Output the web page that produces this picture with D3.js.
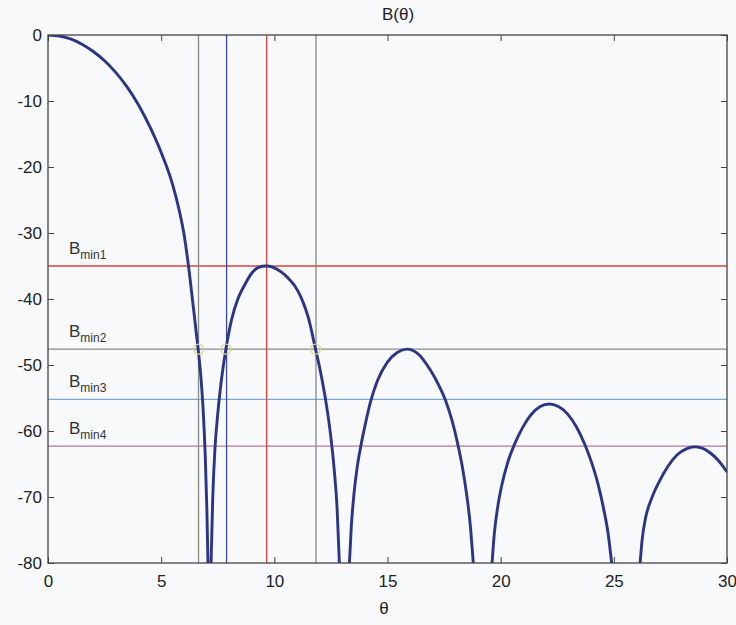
<!DOCTYPE html>
<html>
<head>
<meta charset="utf-8">
<script src="https://cdn.jsdelivr.net/npm/d3@7"></script>
<style>
  body { margin: 0; background: #f8f9fb; }
  svg { font-family: "Liberation Sans", Arial, sans-serif; }
</style>
</head>
<body>
<svg id="chart"></svg>
<script>
// B(theta) in dB; null marks a gap (nulls below -80)
const thetaVals = [
  0, 0.5, 1.0, 1.5, 2.0, 2.5, 3.0, 3.5, 4.0, 4.5, 5.0, 5.5, 5.8, 6.0, 6.2, 6.4, 6.6, 6.75, 6.85, 6.95, 7.02, 7.07,
  null,
  7.2, 7.28, 7.38, 7.5, 7.65, 7.86, 8.1, 8.4, 8.7, 9.0, 9.3, 9.63, 9.95, 10.3, 10.6, 10.9, 11.2, 11.5, 11.82, 12.05, 12.3, 12.5, 12.65, 12.77, 12.88,
  null,
  13.31, 13.4, 13.52, 13.66, 13.82, 14.03, 14.25, 14.54, 14.99, 15.43, 15.87, 16.31, 16.9, 17.3, 17.57, 17.85, 18.08, 18.3, 18.48, 18.65, 18.8,
  null,
  19.61, 19.72, 19.87, 20.05, 20.3, 20.6, 21.0, 21.35, 21.75, 22.14, 22.55, 22.95, 23.35, 23.7, 24.0, 24.3, 24.55, 24.75, 24.92,
  null,
  26.15, 26.25, 26.4, 26.65, 27.0, 27.4, 27.8, 28.2, 28.55, 28.9, 29.25, 29.6, 30
];
const bVals = [
  0, -0.15, -0.6, -1.4, -2.5, -3.9, -5.7, -7.9, -10.6, -13.9, -17.8, -22.6, -26.6, -30.0, -34.8, -40.6, -46.6, -51.6, -56.5, -64.0, -72.0, -80.5,
  null,
  -80.5, -70.0, -62.5, -57.4, -52.6, -47.6, -43.3, -39.9, -37.8, -36.1, -35.2, -35.0, -35.2, -35.9, -36.8, -38.0, -39.9, -42.8, -47.6, -51.2, -56.0, -61.0, -66.0, -71.5, -80.5,
  null,
  -80.5, -74.5, -69.5, -65.5, -62.3, -58.8, -55.6, -52.5, -49.6, -48.1, -47.6, -48.2, -50.8, -53.3, -55.4, -58.4, -61.6, -65.3, -69.2, -74.0, -80.5,
  null,
  -80.5, -75.5, -71.5, -68.2, -64.9, -62.1, -59.3, -57.5, -56.3, -55.9, -56.3, -57.4, -59.4, -61.9, -64.6, -68.0, -71.8, -75.6, -80.5,
  null,
  -80.5, -76.5, -73.2, -70.4, -67.7, -65.3, -63.6, -62.7, -62.4, -62.6, -63.3, -64.4, -66.2
];

const levelNames = ["min1", "min2", "min3", "min4"];
const levelVals = [-35, -47.6, -55.2, -62.3];
const levelColors = ["#d8453c", "#868b84", "#7ea8d8", "#b57a9e"];

const vLineVals = [6.65, 7.89, 9.66, 11.84];
const vLineColors = ["#868b84", "#3d4a8c", "#d8453c", "#868b84"];

const crossVals = [6.65, 7.86, 11.82];
const crossLevel = -47.6;

const xTicks = [0, 5, 10, 15, 20, 25, 30];
const yTicks = [0, -10, -20, -30, -40, -50, -60, -70, -80];

const width = 736, height = 625;
const margin = { top: 35, right: 9, bottom: 62, left: 48 };
const iw = width - margin.left - margin.right;
const ih = height - margin.top - margin.bottom;

const svg = d3.select('#chart')
  .attr('width', width)
  .attr('height', height);

svg.append('rect')
  .attr('width', width)
  .attr('height', height)
  .attr('fill', '#f8f9fb');

const x = d3.scaleLinear().domain([0, 30]).range([0, iw]);
const y = d3.scaleLinear().domain([-80, 0]).range([ih, 0]);

const g = svg.append('g')
  .attr('transform', `translate(${margin.left},${margin.top})`);

g.append('clipPath')
  .attr('id', 'plot-clip')
  .append('rect')
  .attr('width', iw)
  .attr('height', ih);

// reference levels
g.selectAll('.hline')
  .data(levelVals)
  .join('line')
    .attr('class', 'hline')
    .attr('x1', 0)
    .attr('x2', iw)
    .attr('y1', d => y(d))
    .attr('y2', d => y(d))
    .attr('stroke', (d, i) => levelColors[i])
    .attr('stroke-width', 1.3);

g.selectAll('.vline')
  .data(vLineVals)
  .join('line')
    .attr('class', 'vline')
    .attr('x1', d => x(d))
    .attr('x2', d => x(d))
    .attr('y1', 0)
    .attr('y2', ih)
    .attr('stroke', (d, i) => vLineColors[i])
    .attr('stroke-width', 1.3);

// curve
const pts = thetaVals.map((t, i) => ({ t: t, b: bVals[i] }));
const line = d3.line()
  .defined(d => d.t !== null)
  .x(d => x(d.t))
  .y(d => y(d.b))
  .curve(d3.curveMonotoneX);

g.append('path')
  .datum(pts)
  .attr('clip-path', 'url(#plot-clip)')
  .attr('d', line)
  .attr('fill', 'none')
  .attr('stroke', '#2c3584')
  .attr('stroke-width', 2.9)
  .attr('stroke-linejoin', 'round');

// crossing markers
g.selectAll('.cross')
  .data(crossVals)
  .join('circle')
    .attr('class', 'cross')
    .attr('cx', d => x(d))
    .attr('cy', y(crossLevel))
    .attr('r', 5)
    .attr('fill', 'none')
    .attr('stroke', '#d6d88e')
    .attr('stroke-width', 1.3);

// level labels
const labels = g.selectAll('.lvl')
  .data(levelVals)
  .join('text')
    .attr('class', 'lvl')
    .attr('x', 21)
    .attr('y', d => y(d) - 12)
    .attr('font-size', 17)
    .attr('fill', '#333');
labels.append('tspan').text('B');
labels.append('tspan')
  .attr('dy', 5)
  .attr('font-size', 12)
  .text((d, i) => levelNames[i]);

// axes, MATLAB style inward ticks on all sides
const axisColor = '#444';
const styleAxis = sel => {
  sel.select('.domain').remove();
  sel.selectAll('.tick line').attr('stroke', axisColor);
  sel.selectAll('text').attr('font-size', 17).attr('fill', '#222');
};
const plain = d => String(d);

g.append('g')
  .attr('transform', `translate(0,${ih})`)
  .call(d3.axisBottom(x).tickValues(xTicks).tickFormat(plain).tickSize(-6).tickPadding(12))
  .call(styleAxis);

g.append('g')
  .call(d3.axisTop(x).tickValues(xTicks).tickSize(-6).tickFormat(''))
  .call(styleAxis);

g.append('g')
  .call(d3.axisLeft(y).tickValues(yTicks).tickFormat(plain).tickSize(-6).tickPadding(6))
  .call(styleAxis);

g.append('g')
  .attr('transform', `translate(${iw},0)`)
  .call(d3.axisRight(y).tickValues(yTicks).tickSize(-6).tickFormat(''))
  .call(styleAxis);

g.append('rect')
  .attr('width', iw)
  .attr('height', ih)
  .attr('fill', 'none')
  .attr('stroke', axisColor)
  .attr('stroke-width', 1.3);

// titles
svg.append('text')
  .attr('x', 398)
  .attr('y', 20)
  .attr('text-anchor', 'middle')
  .attr('font-size', 17)
  .attr('fill', '#222')
  .text('B(θ)');

svg.append('text')
  .attr('x', 384)
  .attr('y', 614)
  .attr('text-anchor', 'middle')
  .attr('font-size', 17)
  .attr('fill', '#222')
  .text('θ');
</script>
</body>
</html>
